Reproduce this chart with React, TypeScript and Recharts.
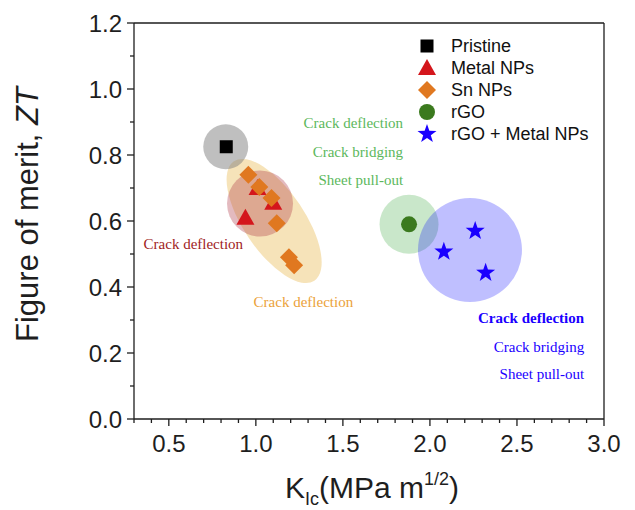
import React from "react";
import {
  ScatterChart,
  Scatter,
  XAxis,
  YAxis,
  ReferenceDot,
  ReferenceLine,
  Legend,
} from "recharts";

// K_Ic (MPa m^1/2) and ZT
const pristineK = [0.83];
const pristineZT = [0.825];
const metalK = [0.94, 1.01, 1.1];
const metalZT = [0.61, 0.7, 0.655];
const snK = [0.957, 1.02, 1.09, 1.12, 1.19, 1.22];
const snZT = [0.74, 0.703, 0.67, 0.593, 0.49, 0.466];
const rgoK = [1.88];
const rgoZT = [0.59];
const rgoMetalK = [2.08, 2.26, 2.32];
const rgoMetalZT = [0.507, 0.57, 0.443];

const xTicks = [
  0.3, 0.4, 0.5, 0.6, 0.7, 0.8, 0.9, 1.0, 1.1, 1.2, 1.3, 1.4, 1.5, 1.6, 1.7,
  1.8, 1.9, 2.0, 2.1, 2.2, 2.3, 2.4, 2.5, 2.6, 2.7, 2.8, 2.9, 3.0,
];
const xLabelTicks = [0.5, 1.0, 1.5, 2.0, 2.5, 3.0];
const yTicks = [0, 0.1, 0.2, 0.3, 0.4, 0.5, 0.6, 0.7, 0.8, 0.9, 1.0, 1.1, 1.2];
const yLabelTicks = [0, 0.2, 0.4, 0.6, 0.8, 1.0, 1.2];

const toPoints = (k: number[], zt: number[]) =>
  k.map((v, i) => ({ k: v, zt: zt[i] }));

const series = [
  { name: "Pristine", kind: "square", color: "#000000", data: toPoints(pristineK, pristineZT) },
  { name: "Metal NPs", kind: "triangle", color: "#d4161c", data: toPoints(metalK, metalZT) },
  { name: "Sn NPs", kind: "diamond", color: "#e07820", data: toPoints(snK, snZT) },
  { name: "rGO", kind: "circle", color: "#3b7a1e", data: toPoints(rgoK, rgoZT) },
  { name: "rGO + Metal NPs", kind: "star", color: "#1a00ff", data: toPoints(rgoMetalK, rgoMetalZT) },
];

// shaded groups (centre in data units, size in px)
const zones = [
  { k: 1.105, zt: 0.6, rx: 72, ry: 30.5, rot: 56, fill: "#e8b850", op: 0.4 },
  { k: 0.827, zt: 0.825, rx: 22.5, ry: 22.5, rot: 0, fill: "#808080", op: 0.5 },
  { k: 1.024, zt: 0.653, rx: 33, ry: 33, rot: 0, fill: "#b03a48", op: 0.35 },
  { k: 1.88, zt: 0.59, rx: 29.5, ry: 29.5, rot: 0, fill: "#4caf50", op: 0.3 },
  { k: 2.23, zt: 0.512, rx: 52, ry: 52, rot: 0, fill: "#0000ff", op: 0.25 },
];

const notes = [
  { text: "Crack deflection", k: 1.846, zt: 0.897, color: "#5cb85c", anchor: "end", bold: false },
  { text: "Crack bridging", k: 1.846, zt: 0.809, color: "#5cb85c", anchor: "end", bold: false },
  { text: "Sheet pull-out", k: 1.846, zt: 0.724, color: "#5cb85c", anchor: "end", bold: false },
  { text: "Crack deflection", k: 2.886, zt: 0.306, color: "#1a00ff", anchor: "end", bold: true },
  { text: "Crack bridging", k: 2.886, zt: 0.218, color: "#1a00ff", anchor: "end", bold: false },
  { text: "Sheet pull-out", k: 2.886, zt: 0.136, color: "#1a00ff", anchor: "end", bold: false },
  { text: "Crack deflection", k: 0.641, zt: 0.53, color: "#a01c1c", anchor: "middle", bold: false },
  { text: "Crack deflection", k: 1.273, zt: 0.355, color: "#eba23a", anchor: "middle", bold: false },
];

const SANS = "'Liberation Sans', Arial, sans-serif";
const SERIF = "'Liberation Serif', 'Times New Roman', serif";
const INK = "#1e1e1e";

function Marker({ kind, cx, cy, color }: any) {
  if (kind === "square")
    return <rect x={cx - 6.5} y={cy - 6.5} width={13} height={13} fill={color} />;
  if (kind === "triangle")
    return <polygon points={`${cx},${cy - 9} ${cx + 9},${cy + 7} ${cx - 9},${cy + 7}`} fill={color} />;
  if (kind === "diamond")
    return <polygon points={`${cx},${cy - 9} ${cx + 9},${cy} ${cx},${cy + 9} ${cx - 9},${cy}`} fill={color} />;
  if (kind === "circle") return <circle cx={cx} cy={cy} r={8} fill={color} />;
  const pts: string[] = [];
  for (let i = 0; i < 10; i++) {
    const r = i % 2 === 0 ? 10 : 4;
    const a = -Math.PI / 2 + (i * Math.PI) / 5;
    pts.push(`${cx + r * Math.cos(a)},${cy + r * Math.sin(a)}`);
  }
  return <polygon points={pts.join(" ")} fill={color} />;
}

const isMajor = (list: number[], v: number) => list.some((t) => Math.abs(t - v) < 1e-6);

function XTick({ x, y, payload }: any) {
  const v = payload.value;
  const major = isMajor(xLabelTicks, v);
  return (
    <g>
      <line x1={x} x2={x} y1={y} y2={y + (major ? 7 : 4)} stroke={INK} strokeWidth={1.3} />
      {major && (
        <text x={x} y={y + 33} textAnchor="middle" fontSize={24} fontFamily={SANS} fill={INK}>
          {v.toFixed(1)}
        </text>
      )}
    </g>
  );
}

function YTick({ x, y, payload }: any) {
  const v = payload.value;
  const major = isMajor(yLabelTicks, v);
  return (
    <g>
      <line x1={x} x2={x - (major ? 7 : 4)} y1={y} y2={y} stroke={INK} strokeWidth={1.3} />
      {major && (
        <text x={x - 12} y={y + 8.5} textAnchor="end" fontSize={24} fontFamily={SANS} fill={INK}>
          {v.toFixed(1)}
        </text>
      )}
    </g>
  );
}

function XTitle({ viewBox }: any) {
  const cx = viewBox.x + viewBox.width / 2 + 3;
  return (
    <text x={cx} y={498} textAnchor="middle" fontSize={30} fontFamily={SANS} fill={INK}>
      <tspan>K</tspan>
      <tspan fontSize={18} dy={7}>Ic</tspan>
      <tspan dy={-7}>(MPa m</tspan>
      <tspan fontSize={18} dy={-13}>1/2</tspan>
      <tspan dy={13}>)</tspan>
    </text>
  );
}

function YTitle({ viewBox }: any) {
  const cy = viewBox.y + viewBox.height / 2 - 6.5;
  return (
    <text
      x={38}
      y={cy}
      transform={`rotate(-90 38 ${cy})`}
      textAnchor="middle"
      fontSize={31}
      fontFamily={SANS}
      fill={INK}
    >
      Figure of merit, <tspan fontStyle="italic">ZT</tspan>
    </text>
  );
}

function LegendBox() {
  return (
    <div style={{ fontFamily: SANS, fontSize: 18, color: "#111" }}>
      {series.map((s) => (
        <div key={s.name} style={{ display: "flex", alignItems: "center", height: 22 }}>
          <svg width={20} height={20} style={{ display: "block" }}>
            <Marker kind={s.kind} cx={10} cy={10} color={s.color} />
          </svg>
          <span style={{ marginLeft: 14, whiteSpace: "nowrap" }}>{s.name}</span>
        </div>
      ))}
    </div>
  );
}

export default function App() {
  return (
    <div style={{ position: "absolute", left: 0, top: 0 }}>
      <ScatterChart width={635} height={510} margin={{ top: 23, right: 31, left: 0, bottom: 0 }}>
        <XAxis
          type="number"
          dataKey="k"
          domain={[0.3, 3.0]}
          ticks={xTicks}
          interval={0}
          tick={<XTick />}
          tickLine={false}
          tickSize={0}
          tickMargin={0}
          height={91}
          stroke={INK}
          strokeWidth={1.3}
          allowDataOverflow
          label={{ content: (p: any) => <XTitle {...p} /> }}
        />
        <YAxis
          type="number"
          dataKey="zt"
          domain={[0, 1.2]}
          ticks={yTicks}
          interval={0}
          tick={<YTick />}
          tickLine={false}
          tickSize={0}
          tickMargin={0}
          width={134}
          stroke={INK}
          strokeWidth={1.3}
          allowDataOverflow
          label={{ content: (p: any) => <YTitle {...p} /> }}
        />
        <ReferenceLine y={1.2} stroke={INK} strokeWidth={1.3} />
        <ReferenceLine x={3.0} stroke={INK} strokeWidth={1.3} />
        {zones.map((z, i) => (
          <ReferenceDot
            key={"z" + i}
            x={z.k}
            y={z.zt}
            r={z.rx}
            shape={(p: any) => (
              <ellipse
                cx={p.cx}
                cy={p.cy}
                rx={z.rx}
                ry={z.ry}
                transform={`rotate(${z.rot} ${p.cx} ${p.cy})`}
                fill={z.fill}
                fillOpacity={z.op}
              />
            )}
          />
        ))}
        {series.map((s) => (
          <Scatter
            key={s.name}
            name={s.name}
            data={s.data}
            fill={s.color}
            isAnimationActive={false}
            shape={(p: any) => <Marker kind={s.kind} cx={p.cx} cy={p.cy} color={s.color} />}
          />
        ))}
        {notes.map((n, i) => (
          <ReferenceDot
            key={"n" + i}
            x={n.k}
            y={n.zt}
            r={1}
            shape={(p: any) => (
              <text
                x={p.cx}
                y={p.cy + 5}
                textAnchor={n.anchor}
                fontSize={15}
                fontFamily={SERIF}
                fontWeight={n.bold ? "bold" : "normal"}
                fill={n.color}
              >
                {n.text}
              </text>
            )}
          />
        ))}
        <Legend
          layout="horizontal"
          verticalAlign="middle"
          align="center"
          content={() => <LegendBox />}
          wrapperStyle={{ top: 35, left: 417, width: 210 }}
        />
      </ScatterChart>
    </div>
  );
}
